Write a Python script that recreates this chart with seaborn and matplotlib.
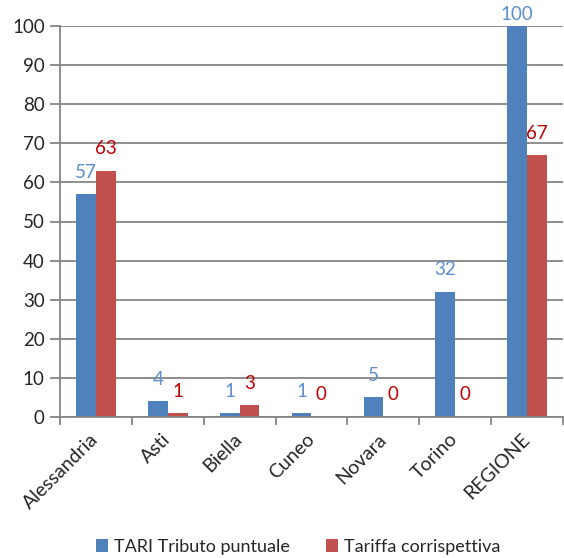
import matplotlib
matplotlib.use("Agg")
import matplotlib.pyplot as plt
from matplotlib.transforms import offset_copy
import seaborn as sns
import pandas as pd

# Province data
categories = ["Alessandria", "Asti", "Biella", "Cuneo", "Novara", "Torino", "REGIONE"]
tributo_puntuale = [57, 4, 1, 1, 5, 32, 100]
tariffa_corrispettiva = [63, 1, 3, 0, 0, 0, 67]
series_names = ["TARI Tributo puntuale", "Tariffa corrispettiva"]
y_ticks = [0, 10, 20, 30, 40, 50, 60, 70, 80, 90, 100]

bar_colors = ["#4F81BD", "#C0504D"]
label_colors = ["#5A8ED0", "#C00000"]
grid_color = "#868686"
text_color = "#262626"

df = pd.DataFrame({
    "categoria": categories * 2,
    "valore": tributo_puntuale + tariffa_corrispettiva,
    "serie": [series_names[0]] * len(categories) + [series_names[1]] * len(categories),
})

sns.set_theme(style="white")
plt.rcParams["font.family"] = ["Lato", "DejaVu Sans"]

W, H, DPI = 564, 558, 100
fig = plt.figure(figsize=(W / DPI, H / DPI), dpi=DPI)
ax = fig.add_axes([60 / W, 1 - 417 / H, 503 / W, (417 - 26) / H])

sns.barplot(data=df, x="categoria", y="valore", hue="serie", order=categories,
            hue_order=series_names, palette=bar_colors, width=0.55, gap=0,
            saturation=1, linewidth=0, ax=ax, legend=True)

ax.set_ylim(0, 100)
ax.set_xlim(-0.5, len(categories) - 0.5)
ax.set_yticks(y_ticks)
ax.yaxis.grid(True, color=grid_color, linewidth=1.3)
ax.set_axisbelow(True)
ax.set_xlabel("")
ax.set_ylabel("")

for side in ("top", "right"):
    ax.spines[side].set_visible(False)
for side in ("left", "bottom"):
    ax.spines[side].set_color(grid_color)
    ax.spines[side].set_linewidth(1.3)

# category labels at centres, tick marks at category boundaries
ax.set_xticks(range(len(categories)))
ax.set_xticklabels(categories, rotation=45, ha="right", va="center",
                   rotation_mode="anchor", fontsize=14, color=text_color)
ax.tick_params(axis="x", which="major", length=0, pad=14)
ax.set_xticks([i - 0.5 for i in range(len(categories) + 1)], minor=True)
ax.tick_params(axis="x", which="minor", length=6, width=1.3, color=grid_color,
               direction="out", bottom=True)
ax.tick_params(axis="y", length=7, width=1.3, color=grid_color, direction="out",
               left=True, labelsize=13.5, labelcolor=text_color, pad=4)

# value labels above each bar, kept inside the plot area
px_per_unit = (417 - 26) / 100
for container, values, col in zip(ax.containers,
                                  [tributo_puntuale, tariffa_corrispettiva],
                                  label_colors):
    for bar, v in zip(container, values):
        cx = bar.get_x() + bar.get_width() / 2
        off_px = min(22, (100 - v) * px_per_unit + 12)
        tr = offset_copy(ax.transData, fig=fig, x=0, y=off_px, units="dots")
        ax.text(cx, v, f"{v}", transform=tr, ha="center", va="center",
                fontsize=13.5, color=col, clip_on=False)

handles, labels = ax.get_legend_handles_labels()
ax.get_legend().remove()
fig.legend(handles, labels, loc="center", bbox_to_anchor=(298 / W, 1 - 547 / H),
           ncol=2, frameon=False, fontsize=13, handlelength=0.7,
           handleheight=0.7, handletextpad=0.3, columnspacing=2.0,
           labelcolor=text_color)

fig.savefig("out.png", dpi=DPI)
